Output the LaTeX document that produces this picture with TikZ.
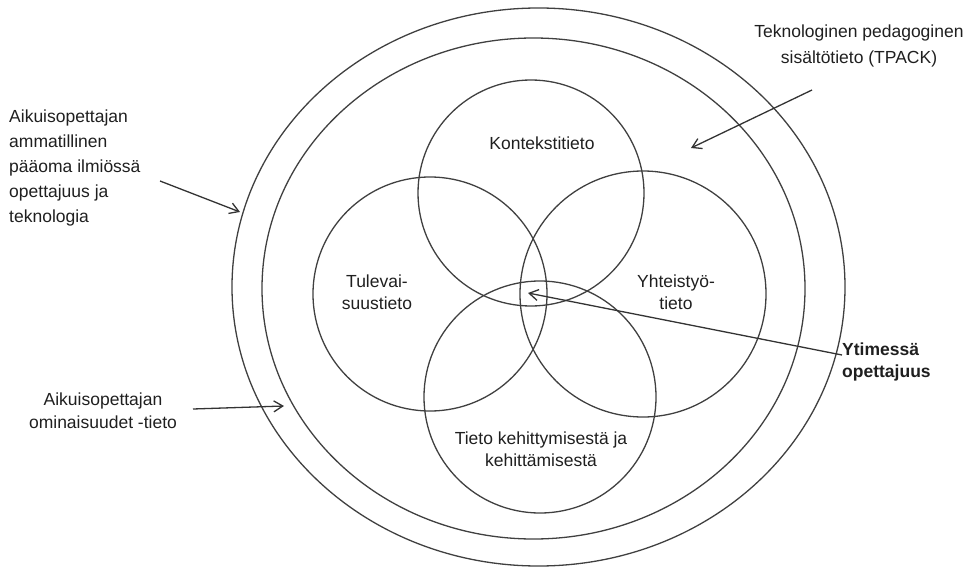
\documentclass[tikz,border=0pt]{standalone}
\usepackage{fontspec}
\setmainfont{Liberation Sans}
\usetikzlibrary{arrows.meta,shapes.geometric}
\begin{document}
\begin{tikzpicture}[x=1pt,y=-1pt,
  line/.style={draw=black!75, line width=1.3pt},
  ring/.style={line, circle, inner sep=0pt},
  oval/.style={line, ellipse, inner sep=0pt},
  lbl/.style={text=black!88, font=\fontsize{17.5}{22}\selectfont, align=center, inner sep=0pt},
  pointer/.style={draw=black!80, line width=1.3pt, -{Straight Barb[length=9pt,width=11pt]}}
]
\useasboundingbox (0,0) rectangle (969,567);

% nested ellipses
\node[oval, minimum width=613pt, minimum height=558pt] (outer) at (538.5,287) {};
\node[oval, minimum width=543pt, minimum height=501pt] (inner) at (533.5,288.5) {};

% four overlapping knowledge circles
\node[ring, minimum size=226pt] (ctx)  at (531,193) {};
\node[ring, minimum size=234pt] (fut)  at (430,294) {};
\node[ring, minimum size=246pt] (coop) at (643,294) {};
\node[ring, minimum size=232pt] (dev)  at (540,397) {};

% circle labels
\node[lbl] (ctxl)  at (542,143) {Kontekstitieto};
\node[lbl] (futl)  at (377,292) {Tulevai-\\suustieto};
\node[lbl] (coopl) at (676,292) {Yhteistyö-\\tieto};
\node[lbl] (devl)  at (541,449) {Tieto kehittymisestä ja\\kehittämisestä};

% outside labels
\node[lbl, align=left, anchor=west, font=\fontsize{17.5}{25}\selectfont] (capital) at (9,168)
  {Aikuisopettajan\\ammatillinen\\pääoma ilmiössä\\opettajuus ja\\teknologia};
\node[lbl, font=\fontsize{17.5}{23}\selectfont] (traits) at (103,411)
  {Aikuisopettajan\\ominaisuudet -tieto};
\node[lbl, font=\fontsize{17.5}{26}\selectfont] (tpack) at (859,46)
  {Teknologinen pedagoginen\\sisältötieto (TPACK)};
\node[lbl, align=left, anchor=west, font=\bfseries\fontsize{17.5}{22}\selectfont] (core) at (842,362)
  {Ytimessä\\opettajuus};

% arrow end points
\coordinate (capS) at (160,181);
\coordinate (capE) at (240,212);
\coordinate (trS) at (193,409);
\coordinate (trE) at (284,406);
\coordinate (tpS) at (812,90);
\coordinate (tpE) at (691,148);
\coordinate (coS) at (842,355);
\coordinate (coE) at (528,293);

\draw[pointer] (capS) -- (capE);
\draw[pointer] (trS) -- (trE);
\draw[pointer] (tpS) -- (tpE);
\draw[pointer] (coS) -- (coE);
\end{tikzpicture}
\end{document}
